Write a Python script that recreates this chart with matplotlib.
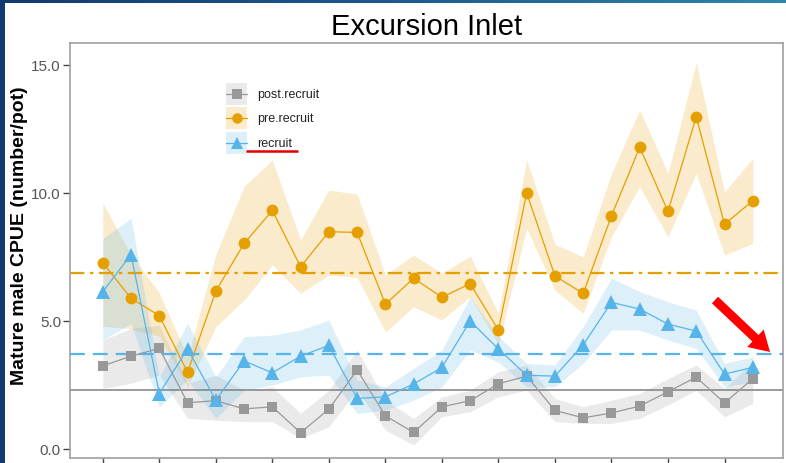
import numpy as np
import matplotlib
matplotlib.use("Agg")
import matplotlib.pyplot as plt
from matplotlib.lines import Line2D
from matplotlib.patches import FancyArrow, Rectangle
from matplotlib.legend_handler import HandlerBase
from matplotlib.colors import LinearSegmentedColormap

plt.rcParams['font.family'] = ['Liberation Sans', 'DejaVu Sans']

title = "Excursion Inlet"
ylabel = "Mature male CPUE (number/pot)"
series_names = ["post.recruit", "pre.recruit", "recruit"]
n_obs = 24
yticks = [0.0, 5.0, 10.0, 15.0]

post = [3.25, 3.63, 3.93, 1.81, 1.89, 1.57, 1.65, 0.64, 1.56, 3.09, 1.30, 0.65,
        1.65, 1.89, 2.55, 2.85, 1.51, 1.22, 1.41, 1.68, 2.24, 2.81, 1.80, 2.75]
post_lo = [2.37, 2.57, 2.89, 1.20, 1.13, 1.07, 1.07, 0.42, 0.87, 2.30, 0.74, 0.16,
           1.26, 1.46, 2.04, 2.30, 1.07, 1.00, 1.00, 1.20, 1.72, 2.30, 1.26, 1.78]
post_hi = [4.26, 4.71, 4.84, 2.57, 2.89, 2.30, 2.43, 1.39, 2.30, 3.87, 1.91, 1.20,
           2.04, 2.30, 3.02, 3.28, 1.98, 1.65, 1.91, 2.17, 2.76, 3.28, 2.37, 3.41]

pre = [7.28, 5.89, 5.21, 3.00, 6.17, 8.03, 9.32, 7.12, 8.49, 8.46, 5.66, 6.67,
       5.93, 6.46, 4.65, 10.00, 6.76, 6.08, 9.11, 11.79, 9.28, 12.98, 8.78, 9.70]
pre_lo = [4.80, 4.70, 4.40, 2.43, 4.78, 5.82, 7.19, 6.08, 6.80, 6.70, 4.58, 5.56,
          5.04, 5.95, 4.10, 8.62, 6.20, 5.30, 8.30, 10.25, 8.29, 10.77, 7.58, 8.03]
pre_hi = [9.60, 7.60, 6.10, 3.60, 7.60, 10.25, 11.29, 8.16, 10.12, 9.96, 6.80, 7.58,
          6.87, 7.54, 5.30, 11.29, 8.00, 7.50, 10.77, 13.24, 10.77, 15.09, 10.05, 11.36]

rec = [6.15, 7.59, 2.17, 3.91, 1.91, 3.44, 2.98, 3.63, 4.05, 1.98, 2.04, 2.54,
       3.19, 5.00, 3.91, 2.88, 2.85, 4.07, 5.73, 5.47, 4.88, 4.61, 2.93, 3.19]
rec_lo = [4.26, 4.90, 1.65, 2.70, 1.20, 2.30, 2.50, 2.82, 2.89, 1.39, 1.52, 1.91,
          2.43, 3.87, 3.40, 2.43, 2.43, 3.35, 4.65, 4.65, 4.26, 3.93, 2.43, 2.63]
rec_hi = [8.23, 9.01, 2.82, 4.91, 2.82, 4.39, 4.45, 4.65, 5.04, 2.70, 2.43, 3.15,
          3.87, 5.95, 4.40, 3.35, 3.28, 4.78, 6.67, 6.15, 5.75, 5.43, 3.35, 3.60]

ref_levels = [2.29, 6.86, 3.71]  # post, pre, recruit reference lines

colors = ['#999999', '#E69F00', '#56B4E9']
markers = ['s', 'o', '^']
msizes = [7.5, 8.5, 9.5]
ref_styles = ['-', (0, (6.5, 2.5, 1.5, 2.5)), (0, (6.7, 3.6))]
ref_colors = ['#7F7F7F', '#E69F00', '#56B4E9']
ref_lw = [1.1, 1.6, 1.6]


class Key:
    def __init__(self, color, marker, ms):
        self.color, self.marker, self.ms = color, marker, ms


class KeyHandler(HandlerBase):
    def create_artists(self, legend, orig_handle, xdescent, ydescent, width,
                       height, fontsize, trans):
        c = orig_handle.color
        rect = Rectangle((-xdescent, -ydescent), width, height, facecolor=c,
                         alpha=0.2, edgecolor='none', transform=trans)
        cy = -ydescent + height / 2
        line = Line2D([-xdescent, width - xdescent], [cy, cy], color=c,
                      linewidth=0.9, transform=trans)
        mk = Line2D([-xdescent + width / 2], [cy], marker=orig_handle.marker,
                    markersize=orig_handle.ms, color=c, markeredgewidth=0,
                    linestyle='none', transform=trans)
        return [rect, line, mk]


W, H = 786, 463
fig = plt.figure(figsize=(W / 100, H / 100), dpi=100)
fig.patch.set_facecolor('white')

ax = fig.add_axes([70 / W, 1 - 458.3 / H, (783 - 70) / W, (458.3 - 43) / H])
x = np.arange(n_obs)
vals = [post, pre, rec]
los = [post_lo, pre_lo, rec_lo]
his = [post_hi, pre_hi, rec_hi]

for i in range(3):
    ax.fill_between(x, los[i], his[i], color=colors[i], alpha=0.2, linewidth=0, zorder=1)
for i in range(3):
    ax.axhline(ref_levels[i], color=ref_colors[i], linestyle=ref_styles[i],
               linewidth=ref_lw[i], zorder=2)
for i in range(3):
    ax.plot(x, vals[i], color=colors[i], linewidth=0.9, marker=markers[i],
            markersize=msizes[i], markeredgewidth=0, zorder=3)

ax.set_xlim(-1.16, 24.07)
ax.set_ylim(-0.36, 15.86)
ax.set_xticks(x[::2])
ax.set_xticklabels([''] * len(x[::2]))
ax.set_yticks(yticks)
ax.set_yticklabels([f"{v:.1f}" for v in yticks])
ax.tick_params(length=5, width=1, color='#444444', labelsize=11,
               labelcolor='#555555', pad=1.5)
for s in ax.spines.values():
    s.set_color('#A0A0A0')
    s.set_linewidth(1.2)

ax.set_title(title, fontsize=21, pad=6.0, color='black')
fig.text(20 / W, 1 - 236 / H, ylabel, rotation=90, ha='center', va='center',
         fontsize=14, fontweight='bold', color='black')

handles = [Key(colors[i], markers[i], msizes[i] - 1) for i in range(3)]
leg = ax.legend(handles, series_names, handler_map={Key: KeyHandler()},
                loc='upper left', bbox_to_anchor=((226 - 70) / 713, (458.3 - 83) / 415.3),
                frameon=False, fontsize=9, handlelength=1.7, handleheight=2.33,
                handletextpad=0.8, labelspacing=0.2, borderpad=0, borderaxespad=0)
for t in leg.get_texts():
    t.set_color('#222222')

# slide decorations
ov = fig.add_axes([0, 0, 1, 1], facecolor='none', zorder=10)
ov.set_xlim(0, W)
ov.set_ylim(H, 0)
ov.axis('off')
grad = np.linspace(0, 1, 256)[None, :]
cm = LinearSegmentedColormap.from_list('slide', ['#123A70', '#1E5A8C', '#2E86AA'])
ov.imshow(grad, cmap=cm, extent=(0, W, 3, 0), aspect='auto')
ov.add_patch(Rectangle((0, 0), 5, H, facecolor='#123A70', edgecolor='none'))
ov.add_artist(FancyArrow(715, 300, 770 - 715, 352 - 300, width=9, head_width=24,
                         head_length=20, length_includes_head=True,
                         color='#FF0000', linewidth=0))
ov.plot([245.7, 297.7], [150.7, 150.7], color='#E00000', linewidth=1.8,
        solid_capstyle='butt')
ov.set_xlim(0, W)
ov.set_ylim(H, 0)

fig.savefig('out.png', dpi=100)
